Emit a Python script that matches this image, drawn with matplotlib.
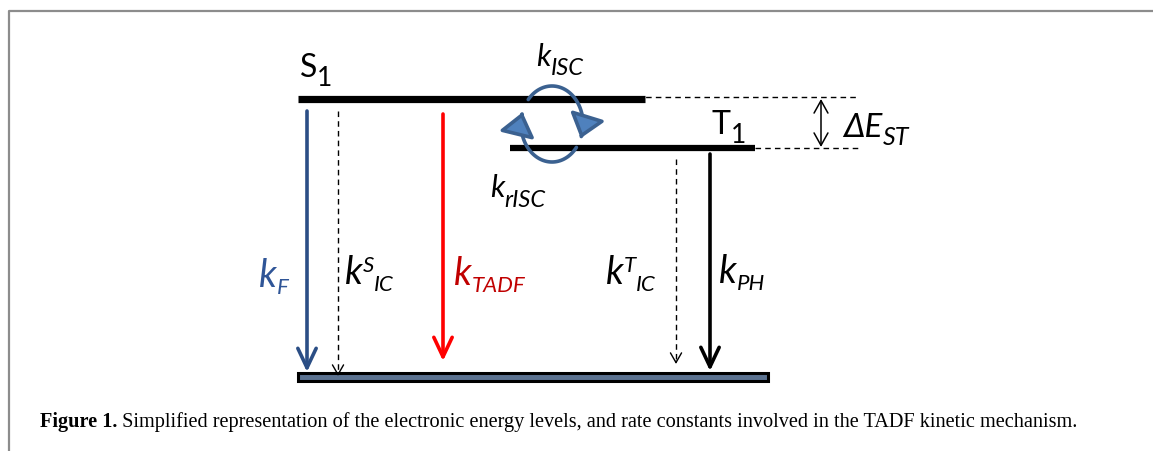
import numpy as np
import matplotlib
matplotlib.use('Agg')
import matplotlib.pyplot as plt
from matplotlib.patches import Rectangle, FancyArrowPatch
from matplotlib.path import Path

FONT = ['Lato', 'DejaVu Sans']
PX = 72 / 100  # points per pixel at dpi 100

# energy levels (pixel layout of the scheme)
level_names = ['S', 'T']
level_y = [100, 149]
level_x0 = [298, 510]
level_x1 = [645, 755]
level_lw = [5.2, 4.5]
level_label_x = [300, 712]
level_label_base = [77, 134]

ground_y = 378
ground_x = [298, 768]

# radiative / non-radiative decays
decay_x = [307, 338, 443, 676, 710]
decay_y0 = [112, 112, 115, 160, 155]
decay_y1 = [373, 377, 362, 365, 372]
decay_color = ['#2b4e85', 'black', '#ff0000', 'black', 'black']
decay_dashed = [False, True, False, True, False]

# rate constant labels: k_sub (with optional superscript)
rate_sub = ['F', 'IC', 'TADF', 'IC', 'PH', 'ISC', 'rISC']
rate_sup = [None, 'S', None, 'T', None, None, None]
rate_x = [259, 345, 454, 606, 719, 536, 490]
rate_base = [287, 284, 285, 284, 283, 66, 197]
rate_color = ['#2f5597', 'black', '#c00000', 'black', 'black', 'black', 'black']
rate_size = [27, 27, 27, 27, 27, 22, 22]
rate_sub_size = [16, 16, 16, 16, 16, 17, 17]
rate_drop = [7, 7, 7, 7, 7, 9, 10]

fig = plt.figure(figsize=(11.53, 4.52), dpi=100)
ax = fig.add_axes([0, 0, 1, 1])
ax.set_xlim(0, 1153)
ax.set_ylim(452, 0)
ax.axis('off')


def sub_text(anchor, base, s, size, drop, color, style):
    return ax.annotate(s, xy=(1, base), xycoords=(anchor, 'data'), xytext=(0, -drop * PX),
                       textcoords='offset points', fontsize=size, style=style, family=FONT,
                       color=color, ha='left', va='baseline')


# frame of the figure page
ax.plot([9, 9, 1153], [452, 12, 12], color='#8c8c8c', lw=1.6)

# dashed guides for the gap
ax.plot([597, 858], [98, 98], color='black', lw=1.0, ls=(0, (4, 3)))
ax.plot([755, 858], [149, 149], color='black', lw=1.0, ls=(0, (4, 3)))

for name, y, x0, x1, lw, lx, lb in zip(level_names, level_y, level_x0, level_x1, level_lw,
                                       level_label_x, level_label_base):
    ax.plot([x0, x1], [y, y], color='black', lw=lw, solid_capstyle='butt', zorder=3)
    t = ax.text(lx, lb, name, fontsize=23, family=FONT, ha='left', va='baseline')
    sub_text(t, lb, '1', 19, 9, 'black', 'normal')

ax.add_patch(Rectangle((ground_x[0], ground_y - 4), ground_x[1] - ground_x[0], 8,
                       facecolor='#5b7290', edgecolor='black', lw=2.2, zorder=3))

for x, y0, y1, c, dashed in zip(decay_x, decay_y0, decay_y1, decay_color, decay_dashed):
    if dashed:
        ax.plot([x, x], [y0, y1 - 2], color=c, lw=1.0, ls=(0, (4, 3)))
        ax.annotate('', xy=(x, y1), xytext=(x, y1 - 3),
                    arrowprops=dict(arrowstyle='->,head_length=0.35,head_width=0.2', lw=1.0,
                                    color=c, shrinkA=0, shrinkB=0, mutation_scale=20))
    else:
        ax.annotate('', xy=(x, y1), xytext=(x, y0),
                    arrowprops=dict(arrowstyle='->,head_length=0.7,head_width=0.33', lw=2.6,
                                    color=c, shrinkA=0, shrinkB=0, mutation_scale=20))

for sub, sup, x, base, c, size, ssize, drop in zip(rate_sub, rate_sup, rate_x, rate_base,
                                                   rate_color, rate_size, rate_sub_size, rate_drop):
    k = ax.text(x, base, 'k', fontsize=size, style='italic', family=FONT, color=c,
                ha='left', va='baseline')
    anchor = k
    if sup:
        anchor = sub_text(k, base, sup, ssize, -12, c, 'italic')
    sub_text(anchor, base, sub, ssize, drop, c, 'italic')

# ISC / rISC circular arrows
cx, cy, rx, ry = 552, 125, 31, 38
arcs = [(140, -22), (-38, -198)]
for a0, a1 in arcs:
    th = np.radians(np.linspace(a0, a1, 60))
    pts = np.column_stack([cx + rx * np.cos(th), cy - ry * np.sin(th)])
    arr = FancyArrowPatch(path=Path(pts), arrowstyle='-|>,head_length=0.7,head_width=0.55',
                          mutation_scale=20, lw=2.6, edgecolor='#3b6190', facecolor='#4f81bd',
                          zorder=4)
    ax.add_patch(arr)

# singlet-triplet gap
ax.annotate('', xy=(821, 148), xytext=(821, 100),
            arrowprops=dict(arrowstyle='<->,head_length=0.45,head_width=0.25', lw=1.1,
                            color='black', shrinkA=0, shrinkB=0, mutation_scale=20))
de = ax.text(843, 137, '\u0394E', fontsize=24, style='italic', family=FONT,
             ha='left', va='baseline')
sub_text(de, 137, 'ST', 18, 8, 'black', 'italic')

# caption
t1 = ax.text(40, 432, 'Figure 1.', fontsize=14.6, family='Liberation Serif',
             weight='bold', ha='left', va='bottom')
ax.annotate(' Simplified representation of the electronic energy levels, and rate constants '
            'involved in the TADF kinetic mechanism.', xy=(1, 0), xycoords=t1,
            fontsize=14.6, family='Liberation Serif', ha='left', va='bottom')

fig.savefig('out.png', dpi=100)
